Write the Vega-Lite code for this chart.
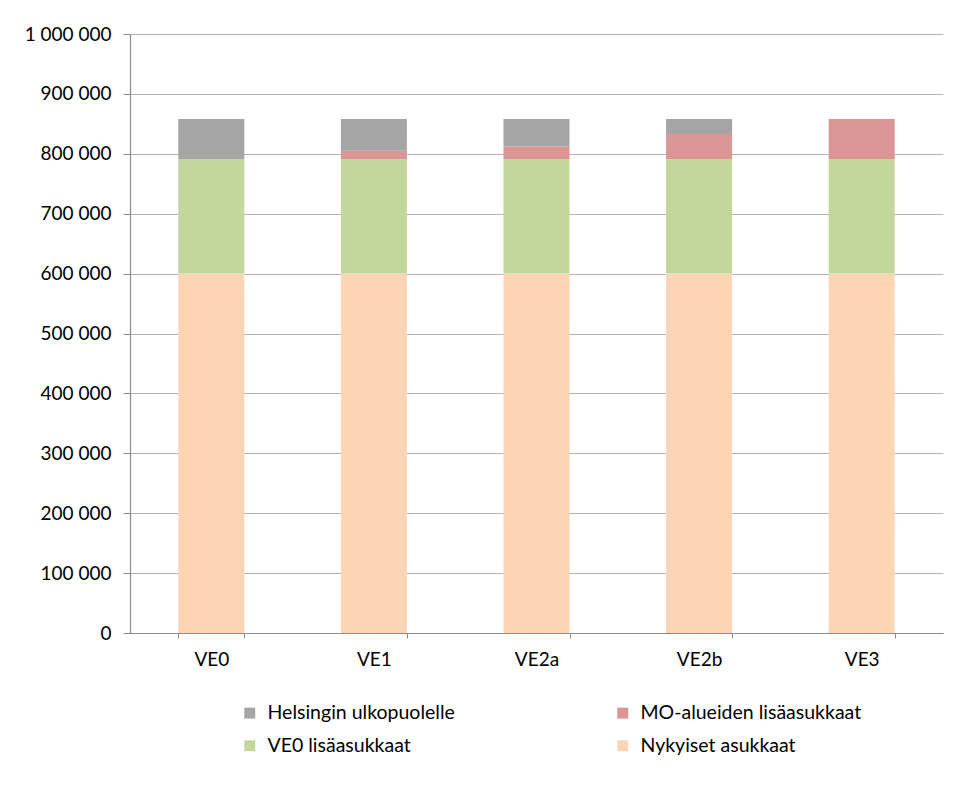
{
  "$schema": "https://vega.github.io/schema/vega-lite/v6.json",
  "width": 813,
  "height": 599,
  "autosize": {"type": "none"},
  "padding": {"left": 130, "top": 34, "right": 32, "bottom": 154},
  "background": "white",
  "config": {
    "font": "Lato",
    "view": {"stroke": null},
    "locale": {"number": {"decimal": ",", "thousands": " ", "grouping": [3], "currency": ["", " €"]}},
    "axis": {"labelFont": "Lato", "labelFontSize": 19, "labelColor": "#000000", "domainColor": "#8C8C8C", "tickColor": "#8C8C8C", "gridColor": "#B4B4B4", "title": null}
  },
  "data": {
    "values": [
      {"vaihtoehto": "VE0", "sarja": "Nykyiset asukkaat", "jarjestys": 1, "asukkaat": 600000},
      {"vaihtoehto": "VE0", "sarja": "VE0 lisäasukkaat", "jarjestys": 2, "asukkaat": 191000},
      {"vaihtoehto": "VE0", "sarja": "MO-alueiden lisäasukkaat", "jarjestys": 3, "asukkaat": 0},
      {"vaihtoehto": "VE0", "sarja": "Helsingin ulkopuolelle", "jarjestys": 4, "asukkaat": 67000},
      {"vaihtoehto": "VE1", "sarja": "Nykyiset asukkaat", "jarjestys": 1, "asukkaat": 600000},
      {"vaihtoehto": "VE1", "sarja": "VE0 lisäasukkaat", "jarjestys": 2, "asukkaat": 191000},
      {"vaihtoehto": "VE1", "sarja": "MO-alueiden lisäasukkaat", "jarjestys": 3, "asukkaat": 14000},
      {"vaihtoehto": "VE1", "sarja": "Helsingin ulkopuolelle", "jarjestys": 4, "asukkaat": 53000},
      {"vaihtoehto": "VE2a", "sarja": "Nykyiset asukkaat", "jarjestys": 1, "asukkaat": 600000},
      {"vaihtoehto": "VE2a", "sarja": "VE0 lisäasukkaat", "jarjestys": 2, "asukkaat": 191000},
      {"vaihtoehto": "VE2a", "sarja": "MO-alueiden lisäasukkaat", "jarjestys": 3, "asukkaat": 21000},
      {"vaihtoehto": "VE2a", "sarja": "Helsingin ulkopuolelle", "jarjestys": 4, "asukkaat": 46000},
      {"vaihtoehto": "VE2b", "sarja": "Nykyiset asukkaat", "jarjestys": 1, "asukkaat": 600000},
      {"vaihtoehto": "VE2b", "sarja": "VE0 lisäasukkaat", "jarjestys": 2, "asukkaat": 191000},
      {"vaihtoehto": "VE2b", "sarja": "MO-alueiden lisäasukkaat", "jarjestys": 3, "asukkaat": 42000},
      {"vaihtoehto": "VE2b", "sarja": "Helsingin ulkopuolelle", "jarjestys": 4, "asukkaat": 25000},
      {"vaihtoehto": "VE3", "sarja": "Nykyiset asukkaat", "jarjestys": 1, "asukkaat": 600000},
      {"vaihtoehto": "VE3", "sarja": "VE0 lisäasukkaat", "jarjestys": 2, "asukkaat": 191000},
      {"vaihtoehto": "VE3", "sarja": "MO-alueiden lisäasukkaat", "jarjestys": 3, "asukkaat": 67000},
      {"vaihtoehto": "VE3", "sarja": "Helsingin ulkopuolelle", "jarjestys": 4, "asukkaat": 0}
    ]
  },
  "mark": {"type": "bar"},
  "encoding": {
    "x": {
      "field": "vaihtoehto", "type": "nominal", "sort": null,
      "scale": {"paddingInner": 0.594, "paddingOuter": 0.297},
      "axis": {"labelAngle": 0, "tickBand": "extent", "tickSize": 5, "labelPadding": 12, "domainWidth": 1.2}
    },
    "y": {
      "field": "asukkaat", "type": "quantitative", "stack": "zero",
      "scale": {"domain": [0, 1000000], "nice": false},
      "axis": {"values": [0, 100000, 200000, 300000, 400000, 500000, 600000, 700000, 800000, 900000, 1000000], "format": ",d", "tickSize": 7, "labelPadding": 12, "grid": true, "domainWidth": 1.2}
    },
    "color": {
      "field": "sarja", "type": "nominal",
      "scale": {
        "domain": ["Helsingin ulkopuolelle", "MO-alueiden lisäasukkaat", "VE0 lisäasukkaat", "Nykyiset asukkaat"],
        "range": ["#A5A5A5", "#D99694", "#C3D69B", "#FCD5B5"]
      },
      "legend": {
        "title": null, "orient": "none", "legendX": 110, "legendY": 669,
        "columns": 2, "direction": "horizontal", "symbolType": "square", "symbolSize": 120,
        "symbolStrokeWidth": 0, "labelFont": "Lato", "labelFontSize": 19.5, "labelColor": "#000000",
        "labelLimit": 400, "columnPadding": 158, "rowPadding": 12, "labelOffset": 8
      }
    },
    "order": {"field": "jarjestys", "type": "quantitative", "sort": "ascending"}
  }
}
